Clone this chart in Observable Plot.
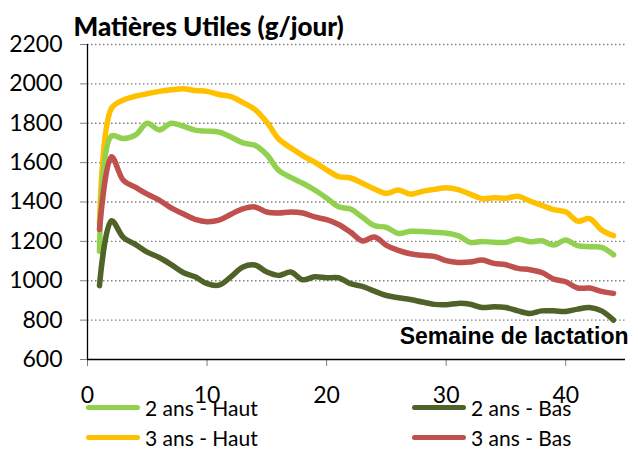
<!DOCTYPE html>
<html>
<head>
<meta charset="utf-8">
<script src="https://cdn.jsdelivr.net/npm/d3@7"></script>
<script src="https://cdn.jsdelivr.net/npm/@observablehq/plot@0.6"></script>
<style>
  html, body { margin: 0; padding: 0; background: #fff; }
  #wrap { position: relative; width: 638px; height: 449px; overflow: hidden; }
  #wrap svg { overflow: visible; }
  .leg { position: absolute; font-family: Lato, "Open Sans", sans-serif; font-size: 21px; color: #000; display: flex; align-items: center; white-space: nowrap; }
  .leg .sw { display: inline-block; width: 54px; height: 5px; border-radius: 3px; margin-right: 5px; }
</style>
</head>
<body>
<div id="wrap"></div>
<script>
const weeks = d3.range(1, 45);
const seriesNames = ["2 ans - Haut", "2 ans - Bas", "3 ans - Haut", "3 ans - Bas"];
const seriesColors = ["#92D050", "#4F6228", "#FFC000", "#C0504D"];
const yTicks = [600, 800, 1000, 1200, 1400, 1600, 1800, 2000, 2200];
const xTicks = [0, 10, 20, 30, 40];

const haut2 = [1150, 1735, 1722, 1740, 1800, 1766, 1800, 1785, 1765, 1760, 1755, 1730, 1700, 1688, 1640, 1560, 1525, 1495, 1461, 1420, 1376, 1364, 1322, 1280, 1271, 1240, 1251, 1250, 1246, 1242, 1229, 1195, 1200, 1195, 1195, 1212, 1198, 1203, 1181, 1207, 1178, 1173, 1170, 1132];
const bas2 = [975, 1305, 1220, 1185, 1145, 1118, 1082, 1042, 1020, 985, 978, 1020, 1070, 1080, 1044, 1027, 1044, 1005, 1020, 1015, 1015, 985, 971, 947, 925, 914, 905, 892, 880, 878, 885, 881, 864, 868, 864, 847, 834, 847, 847, 844, 856, 864, 847, 800];
const haut3 = [1290, 1875, 1918, 1937, 1950, 1962, 1970, 1975, 1966, 1962, 1946, 1935, 1905, 1870, 1805, 1720, 1675, 1636, 1602, 1563, 1529, 1522, 1495, 1466, 1444, 1461, 1440, 1454, 1464, 1473, 1463, 1440, 1417, 1422, 1419, 1429, 1405, 1383, 1361, 1350, 1303, 1315, 1258, 1229];
const bas3 = [1260, 1630, 1510, 1475, 1440, 1410, 1370, 1340, 1312, 1300, 1308, 1338, 1365, 1375, 1349, 1344, 1349, 1344, 1324, 1310, 1286, 1247, 1202, 1222, 1180, 1154, 1137, 1129, 1124, 1102, 1093, 1095, 1105, 1088, 1081, 1063, 1056, 1042, 1008, 995, 963, 963, 946, 936];

const valuesBySeries = [haut2, bas2, haut3, bas3];
const rows = [];
// draw order: yellow, green, red, dark green (as in reference layering)
[2, 0, 3, 1].forEach(si => {
  valuesBySeries[si].forEach((v, i) => rows.push({series: seriesNames[si], week: weeks[i], value: v}));
});

const font = "Lato, 'Open Sans', sans-serif";

const chart = Plot.plot({
  width: 638,
  height: 449,
  marginTop: 44,
  marginLeft: 87,
  marginRight: 13,
  marginBottom: 90,
  style: {fontFamily: font, fontSize: "23px", color: "#000", background: "#fff"},
  x: {domain: [0, 45], ticks: xTicks, tickSize: 7, tickPadding: 20, label: null},
  y: {domain: [600, 2200], ticks: yTicks, tickSize: 7, tickPadding: 18, label: null},
  color: {domain: seriesNames, range: seriesColors},
  marks: [
    Plot.gridY(yTicks.filter(t => t > 600), {stroke: "#808080", strokeOpacity: 1, strokeWidth: 1.3, strokeDasharray: "1.5,2.5"}),
    Plot.axisY({ticks: yTicks, tickSize: 7, tickPadding: 18, stroke: "#808080", fontSize: 23, tickFormat: d => String(d)}),
    Plot.axisX({ticks: xTicks, tickSize: 7, tickPadding: 20, stroke: "#808080", fontSize: 23, tickFormat: d => String(d)}),
    Plot.ruleX([0], {stroke: "#000", strokeWidth: 1.3}),
    Plot.ruleY([600], {stroke: "#000", strokeWidth: 1.3}),
    Plot.line(rows, {x: "week", y: "value", z: "series", stroke: "series", strokeWidth: 5.5, curve: "catmull-rom", strokeLinecap: "round", strokeLinejoin: "round"}),
    Plot.text(["Matières Utiles (g/jour)"], {frameAnchor: "top-left", dx: -14, dy: -27, textAnchor: "start", fontWeight: 900, fontSize: 26, fill: "#000", fontFamily: font}),
    Plot.text(["Semaine de lactation"], {frameAnchor: "bottom-right", dx: 3, dy: -16, textAnchor: "end", fontWeight: "bold", fontSize: 23, fill: "#000", fontFamily: "'Liberation Sans', Arial, sans-serif"})
  ]
});

const wrap = document.getElementById("wrap");
wrap.appendChild(chart);

const legendPos = [
  {left: 86, top: 407},
  {left: 412, top: 407},
  {left: 86, top: 437},
  {left: 412, top: 437}
];
seriesNames.forEach((name, i) => {
  const d = document.createElement("div");
  d.className = "leg";
  d.style.left = legendPos[i].left + "px";
  d.style.top = (legendPos[i].top - 14) + "px";
  d.style.height = "28px";
  const sw = document.createElement("span");
  sw.className = "sw";
  sw.style.background = seriesColors[i];
  d.appendChild(sw);
  d.appendChild(document.createTextNode(name));
  wrap.appendChild(d);
});
</script>
</body>
</html>
